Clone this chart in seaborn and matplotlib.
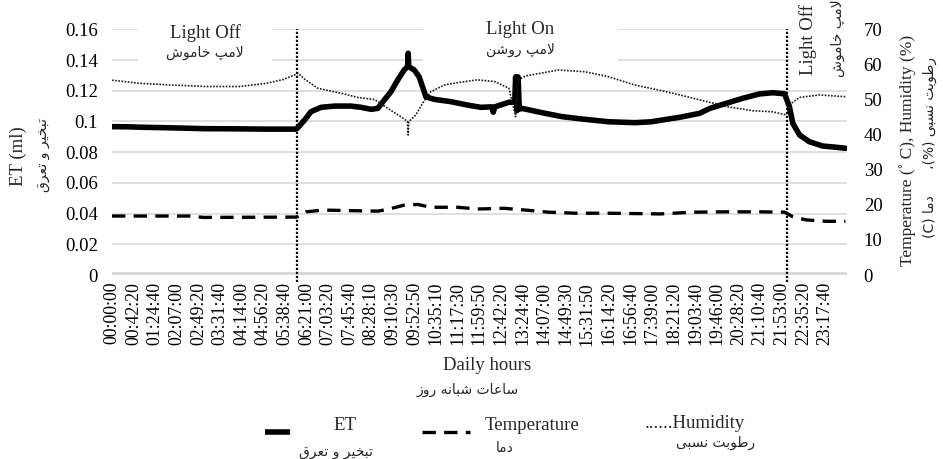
import numpy as np
import pandas as pd
import matplotlib
matplotlib.use("Agg")
import matplotlib.pyplot as plt
import seaborn as sns
from matplotlib.lines import Line2D
from matplotlib.patches import Rectangle
from matplotlib.ticker import FuncFormatter, FixedLocator

# ---------------- data ----------------
et_hours = [0.0, 0.5, 1.0, 2.0, 3.0, 4.0, 5.0, 6.0, 6.05, 6.29, 6.5, 6.83, 7.27, 7.8,
            8.13, 8.46, 8.68, 8.89, 9.11, 9.33, 9.54, 9.65, 9.67, 9.69, 9.87, 10.03,
            10.14, 10.25, 10.52, 11.06, 11.6, 12.04, 12.4, 12.45, 12.5, 12.96, 13.15,
            13.18, 13.22, 13.26, 13.3, 13.39, 14.04, 14.7, 15.34, 16.21, 17.08, 17.62,
            18.05, 18.54, 19.19, 19.52, 20.06, 20.6, 21.14, 21.58, 21.96, 22.12, 22.23,
            22.45, 22.77, 23.2, 23.64, 23.95]
et_values = [0.0966, 0.0965, 0.0962, 0.0958, 0.0953, 0.0952, 0.0950, 0.0950, 0.0955,
             0.1010, 0.1064, 0.1092, 0.1100, 0.1100, 0.1092, 0.1079, 0.1085, 0.1140,
             0.1194, 0.1270, 0.1335, 0.1357, 0.1444, 0.1357, 0.1335, 0.1290, 0.1226,
             0.1160, 0.1144, 0.1129, 0.1107, 0.1092, 0.1095, 0.1060, 0.1095, 0.1125,
             0.1125, 0.1290, 0.1070, 0.1290, 0.1080, 0.1085, 0.1057, 0.1031, 0.1016,
             0.0998, 0.0992, 0.0998, 0.1012, 0.1027, 0.1053, 0.1085, 0.1118, 0.1151,
             0.1179, 0.1187, 0.1180, 0.1096, 0.0988, 0.0912, 0.0868, 0.0840, 0.0832,
             0.0825]

temp_hours = [0.0, 2.5, 3.0, 6.0, 6.05, 6.34, 6.9, 8.0, 8.68, 9.0, 9.54, 9.98, 10.41,
              11.28, 11.93, 12.8, 13.5, 14.26, 15.13, 16.21, 17.9, 18.98, 20.06, 21.14,
              21.96, 22.23, 22.66, 23.32, 23.95]
temp_values = [16.8, 16.8, 16.4, 16.5, 16.6, 18.0, 18.5, 18.3, 18.2, 18.7, 19.9, 20.1,
               19.3, 19.3, 18.8, 19.0, 18.5, 17.9, 17.6, 17.6, 17.4, 17.9, 18.0, 18.0,
               17.9, 16.6, 15.7, 15.3, 15.3]

hum_hours = [0.0, 0.92, 2.0, 3.09, 4.17, 5.04, 5.59, 6.02, 6.07, 6.29, 6.72, 7.48, 8.02,
             8.57, 9.0, 9.43, 9.65, 9.67, 9.69, 9.92, 10.14, 10.41, 10.84, 11.28, 11.93,
             12.5, 12.96, 13.18, 13.25, 13.5, 14.58, 15.45, 16.21, 17.08, 17.95, 18.54,
             19.19, 20.06, 20.93, 21.58, 22.01, 22.18, 22.45, 23.1, 23.95]
hum_values = [55.5, 54.6, 54.1, 53.7, 53.7, 54.6, 55.7, 57.2, 57.5, 55.8, 53.2, 51.8,
              50.6, 50.0, 47.5, 45.1, 43.7, 39.9, 43.7, 45.6, 48.9, 52.2, 54.1, 54.8,
              55.6, 55.1, 53.2, 45.1, 55.5, 56.7, 58.4, 57.9, 56.5, 54.1, 52.5, 51.3,
              49.9, 48.0, 46.8, 46.5, 45.6, 48.9, 50.6, 51.3, 50.8]

light_switch_hours = [6.05, 22.05]

tick_labels = ["00:00:00", "00:42:20", "01:24:40", "02:07:00", "02:49:20", "03:31:40",
               "04:14:00", "04:56:20", "05:38:40", "06:21:00", "07:03:20", "07:45:40",
               "08:28:10", "09:10:30", "09:52:50", "10:35:10", "11:17:30", "11:59:50",
               "12:42:20", "13:24:40", "14:07:00", "14:49:30", "15:31:50", "16:14:20",
               "16:56:40", "17:39:00", "18:21:20", "19:03:40", "19:46:00", "20:28:20",
               "21:10:40", "21:53:00", "22:35:20", "23:17:40"]
tick_step_hours = 2540 / 3600.0

# Persian labels written in presentation forms (logical order)
fa_lamp_off = "\uFEFB\uFEE3\uFB57 \uFEA7\uFE8E\uFEE3\uFEEE\uFEB5"
fa_lamp_on = "\uFEFB\uFEE3\uFB57 \uFEAD\uFEED\uFEB7\uFEE6"
fa_et = "\uFE97\uFE92\uFEA8\uFBFF\uFEAE \uFEED \uFE97\uFECC\uFEAE\uFED5"
fa_hours = "\uFEB3\uFE8E\uFECB\uFE8E\uFE95 \uFEB7\uFE92\uFE8E\uFEE7\uFEEA \uFEAD\uFEED\uFEAF"
fa_temp = "\uFEA9\uFEE3\uFE8E"
fa_hum = "\uFEAD\uFEC3\uFEEE\uFE91\uFE96 \uFEE7\uFEB4\uFE92\uFBFD"


def vis(s):
    return s[::-1]


# ---------------- figure ----------------
sns.set_theme(style="white")
plt.rcParams['font.family'] = ['Liberation Serif', 'DejaVu Sans']
FA = 'DejaVu Sans'
FA_SIZE = 10

W, H = 943, 459
fig = plt.figure(figsize=(W / 100, H / 100), dpi=100)
fig.patch.set_facecolor('white')


def fx(x):
    return x / W


def fy(y):
    return 1 - y / H


ax_l, ax_r, ax_t, ax_b = 112, 847, 29.3, 275
ax = fig.add_axes([fx(ax_l), fy(ax_b), (ax_r - ax_l) / W, (ax_b - ax_t) / H])
ax2 = ax.twinx()

grid_c = '#d9d9d9'

et_df = pd.DataFrame({"hour": et_hours, "ET": et_values})
temp_df = pd.DataFrame({"hour": temp_hours, "Temperature": temp_values})
hum_df = pd.DataFrame({"hour": hum_hours, "Humidity": hum_values})

sns.lineplot(data=et_df, x="hour", y="ET", ax=ax, color='black', linewidth=4.0,
             estimator=None, sort=False, zorder=3)
sns.lineplot(data=temp_df, x="hour", y="Temperature", ax=ax2, color='black',
             linewidth=2.4, estimator=None, sort=False, zorder=3)
ax2.lines[-1].set_dashes([4, 2.5])
sns.lineplot(data=hum_df, x="hour", y="Humidity", ax=ax2, color='#1a1a1a',
             linewidth=1.2, estimator=None, sort=False, zorder=3)
ax2.lines[-1].set_linestyle((0, (1, 0.9)))

# light switch lines
for h in light_switch_hours:
    ax.axvline(h, ymin=-0.03, ymax=1.0, color='black', lw=1.6,
               linestyle=(0, (1, 0.8)), clip_on=False, zorder=4)

# axes limits and ticks
ax.set_xlim(0, 24)
ax.set_ylim(0, 0.16)
ax2.set_ylim(0, 70)
ax.yaxis.set_major_locator(FixedLocator(np.arange(0, 0.161, 0.02)))
ax.yaxis.set_major_formatter(FuncFormatter(lambda v, p: f"{round(v, 2):g}"))
ax2.yaxis.set_major_locator(FixedLocator(np.arange(0, 71, 10)))
ax2.yaxis.set_major_formatter(FuncFormatter(lambda v, p: f"{int(round(v))}"))

ax.set_xticks([i * tick_step_hours for i in range(len(tick_labels))])
ax.set_xticklabels(tick_labels, rotation=90, fontsize=12.8)
ax.tick_params(axis='x', length=0, pad=5)
ax.tick_params(axis='y', length=0, pad=10, labelsize=13.5)
ax2.tick_params(axis='y', length=0, pad=12, labelsize=13.5)
for lab in ax.get_yticklabels() + ax2.get_yticklabels() + ax.get_xticklabels():
    lab.set_color('black')

ax.set_xlabel("")
ax.set_ylabel("")
ax2.set_ylabel("")

ax.yaxis.grid(True, color=grid_c, lw=1.2)
ax.xaxis.grid(False)
ax2.grid(False)
ax.axhline(0, color=grid_c, lw=4.2, zorder=1.2)
for a in (ax, ax2):
    for s in a.spines.values():
        s.set_visible(False)

# white boxes behind the annotation texts (they interrupt the gridlines)
for (x0, x1, y0, y1) in [(138, 272, 18, 66), (423, 618, 18, 66), (790, 852, 8, 80)]:
    ax.add_patch(Rectangle((fx(x0), fy(y1)), (x1 - x0) / W, (y1 - y0) / H,
                           transform=fig.transFigure, facecolor='white',
                           edgecolor='none', zorder=1.5, clip_on=False))

# annotations
fig.text(fx(205), fy(33), "Light Off", ha='center', va='center', fontsize=13.5)
fig.text(fx(205), fy(53), vis(fa_lamp_off), ha='center', va='center', fontsize=FA_SIZE, family=FA)
fig.text(fx(520), fy(29), "Light On", ha='center', va='center', fontsize=13.5)
fig.text(fx(520), fy(50), vis(fa_lamp_on), ha='center', va='center', fontsize=FA_SIZE, family=FA)
fig.text(fx(808), fy(40), "Light Off", ha='center', va='center', fontsize=13.5, rotation=90)
fig.text(fx(838), fy(38), vis(fa_lamp_off), ha='center', va='center', fontsize=FA_SIZE,
         rotation=90, family=FA)

# axis titles
fig.text(fx(18), fy(156), "ET (ml)", ha='center', va='center', fontsize=13.5, rotation=90)
fig.text(fx(43), fy(155), vis(fa_et), ha='center', va='center', fontsize=FA_SIZE, rotation=90, family=FA)
fig.text(fx(908), fy(150), "Temperature (\u02da C), Humidity (%)", ha='center', va='center',
         fontsize=12.5, rotation=90)
fig.text(fx(930), fy(148), "(C) " + vis(fa_temp) + "      \u060C(%) " + vis(fa_hum),
         ha='center', va='center', fontsize=FA_SIZE, rotation=90, family=FA)
fig.text(fx(487), fy(366), "Daily hours", ha='center', va='center', fontsize=13.5)
fig.text(fx(468), fy(390), vis(fa_hours), ha='center', va='center', fontsize=FA_SIZE, family=FA)

# legend (drawn manually to copy the two-line bilingual layout)
fig.add_artist(Line2D([fx(265), fx(290)], [fy(432), fy(432)], color='black', lw=4.0,
                      solid_capstyle='butt', transform=fig.transFigure))
leg_dash = Line2D([fx(422), fx(470)], [fy(432), fy(432)], color='black', lw=2.4,
                  transform=fig.transFigure)
leg_dash.set_dashes([4, 2.5])
fig.add_artist(leg_dash)
fig.text(fx(345), fy(426), "ET", ha='center', va='center', fontsize=13.5)
fig.text(fx(336), fy(452), vis(fa_et), ha='center', va='center', fontsize=FA_SIZE, family=FA)
fig.text(fx(532), fy(426), "Temperature", ha='center', va='center', fontsize=13.5)
fig.text(fx(505), fy(448), vis(fa_temp), ha='center', va='center', fontsize=FA_SIZE, family=FA)
fig.text(fx(695), fy(424), "......Humidity", ha='center', va='center', fontsize=13.5)
fig.text(fx(716), fy(443), vis(fa_hum), ha='center', va='center', fontsize=FA_SIZE, family=FA)

fig.savefig("out.png", dpi=100, facecolor='white')
